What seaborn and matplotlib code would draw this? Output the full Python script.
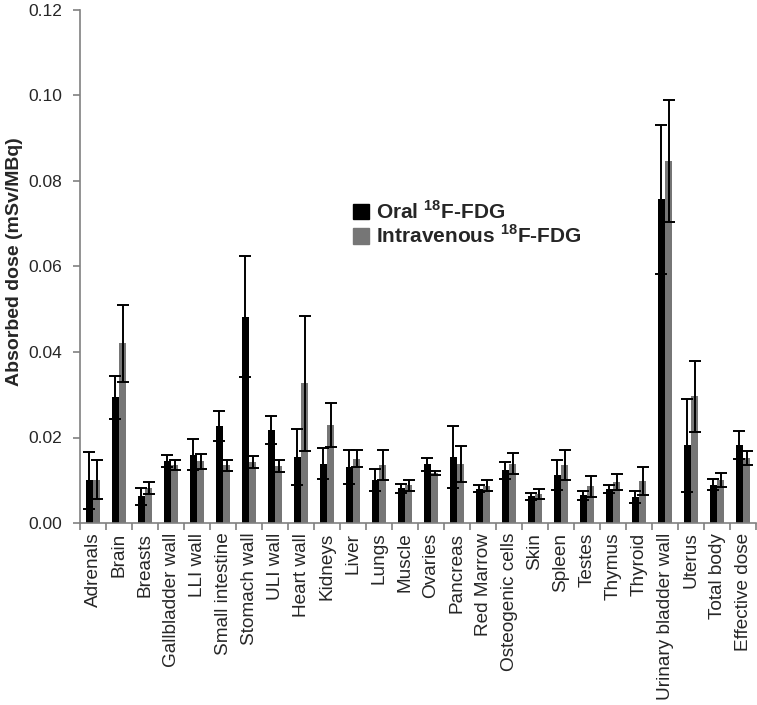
import numpy as np
import pandas as pd
import matplotlib
matplotlib.use("Agg")
import matplotlib.pyplot as plt
from matplotlib.patches import Patch
import seaborn as sns

categories = ["Adrenals", "Brain", "Breasts", "Gallbladder wall", "LLI wall",
              "Small intestine", "Stomach wall", "ULI wall", "Heart wall", "Kidneys",
              "Liver", "Lungs", "Muscle", "Ovaries", "Pancreas", "Red Marrow",
              "Osteogenic cells", "Skin", "Spleen", "Testes", "Thymus", "Thyroid",
              "Urinary bladder wall", "Uterus", "Total body", "Effective dose"]

oral_mean = [0.0100, 0.0294, 0.0062, 0.0144, 0.0160, 0.0227, 0.0483, 0.0218, 0.0154,
             0.0139, 0.0131, 0.0101, 0.0081, 0.0137, 0.0154, 0.0080, 0.0123, 0.0062,
             0.0112, 0.0065, 0.0080, 0.0061, 0.0757, 0.0182, 0.0090, 0.0182]
oral_err = [0.0067, 0.0051, 0.0021, 0.0014, 0.0037, 0.0035, 0.0142, 0.0033, 0.0066,
            0.0036, 0.0039, 0.0026, 0.0010, 0.0015, 0.0072, 0.0008, 0.0019, 0.0008,
            0.0035, 0.0011, 0.0010, 0.0015, 0.0175, 0.0109, 0.0012, 0.0033]
iv_mean = [0.0101, 0.0420, 0.0083, 0.0135, 0.0144, 0.0135, 0.0142, 0.0134, 0.0327,
           0.0229, 0.0150, 0.0136, 0.0088, 0.0117, 0.0139, 0.0087, 0.0139, 0.0068,
           0.0135, 0.0086, 0.0096, 0.0098, 0.0846, 0.0296, 0.0101, 0.0152]
iv_err = [0.0046, 0.0090, 0.0014, 0.0012, 0.0018, 0.0013, 0.0014, 0.0014, 0.0158,
          0.0052, 0.0020, 0.0035, 0.0013, 0.0005, 0.0042, 0.0013, 0.0025, 0.0012,
          0.0035, 0.0025, 0.0018, 0.0033, 0.0143, 0.0082, 0.0016, 0.0016]

series = ["Oral", "Intravenous"]
colors = ["#000000", "#767676"]
y_ticks = [0.00, 0.02, 0.04, 0.06, 0.08, 0.10, 0.12]

sns.set_theme(style="white")
plt.rcParams["font.family"] = ["Liberation Sans", "DejaVu Sans"]
plt.rcParams["mathtext.fontset"] = "custom"
plt.rcParams["mathtext.rm"] = "Liberation Sans"
plt.rcParams["mathtext.bf"] = "Liberation Sans:bold"

df = pd.DataFrame({
    "Organ": categories * 2,
    "Dose": oral_mean + iv_mean,
    "Route": [series[0]] * len(categories) + [series[1]] * len(categories),
})

fig = plt.figure(figsize=(7.57, 7.05), dpi=100)
ax = fig.add_axes([80 / 757, 1 - 523 / 705, 676 / 757, 513 / 705])

sns.barplot(data=df, x="Organ", y="Dose", hue="Route", order=categories,
            hue_order=series, palette=colors, width=0.56, errorbar=None,
            saturation=1, legend=False, ax=ax, linewidth=0)

errs = [oral_err, iv_err]
for cont, err in zip(ax.containers, errs):
    xs = [b.get_x() + b.get_width() / 2 for b in cont]
    hs = [b.get_height() for b in cont]
    ax.errorbar(xs, hs, yerr=err, fmt="none", ecolor="black", elinewidth=1.4,
                capsize=4.5, capthick=1.4, zorder=5)

ax.set_xlim(-0.5, len(categories) - 0.5)
ax.set_ylim(0, 0.12)
ax.set_yticks(y_ticks)
ax.set_yticklabels([f"{v:.2f}" for v in y_ticks], fontsize=12.5)
ax.set_xticks(range(len(categories)))
ax.set_xticklabels(categories, rotation=90, fontsize=13.7)
ax.set_xticks(np.arange(-0.5, len(categories), 1), minor=True)
ax.tick_params(axis="x", which="major", length=0, pad=7)
ax.tick_params(axis="x", which="minor", length=5, width=1.2, color="#808080",
               direction="out", bottom=True)
ax.tick_params(axis="y", length=5, width=1.2, color="#808080", direction="out",
               left=True, pad=8)
ax.set_xlabel("")
ax.set_ylabel("Absorbed dose (mSv/MBq)", fontsize=14, fontweight="bold")
ax.yaxis.set_label_coords(-57 / 676, 0.51)

for s in ["top", "right"]:
    ax.spines[s].set_visible(False)
for s in ["left", "bottom"]:
    ax.spines[s].set_color("#808080")
    ax.spines[s].set_linewidth(1.2)

handles = [Patch(facecolor=c, edgecolor=c) for c in colors]
labels = [r"Oral $^{\mathbf{18}}$F-FDG", r"Intravenous $^{\mathbf{18}}$F-FDG"]
leg = ax.legend(handles, labels, loc="upper left",
                bbox_to_anchor=(353 / 757, 1 - 200 / 705), bbox_transform=fig.transFigure,
                frameon=False, prop={"weight": "bold", "size": 15},
                handlelength=0.75, handleheight=0.75, handletextpad=0.35,
                labelspacing=0.1, borderaxespad=0, borderpad=0)

fig.savefig("out.png", dpi=100)
